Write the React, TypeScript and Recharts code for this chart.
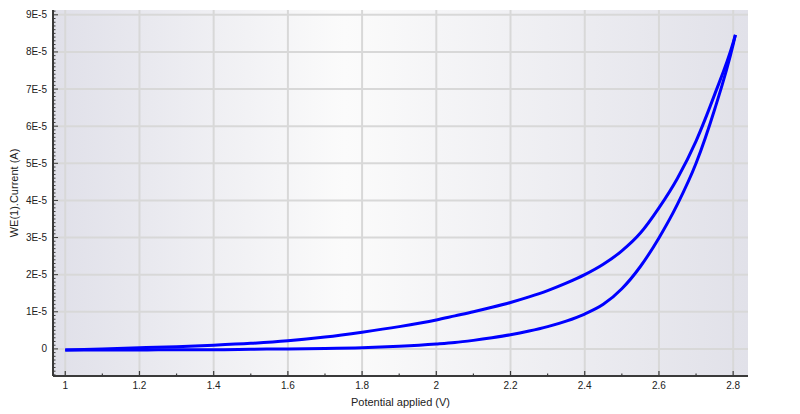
import React from 'react';
import { ComposedChart, Line, XAxis, YAxis, CartesianGrid } from 'recharts';

// Forward scan (lower branch): potential (V) and current (A)
const forwardV = [1.0, 1.1, 1.2, 1.3, 1.4, 1.5, 1.6, 1.7, 1.8, 1.9, 2.0, 2.05, 2.1, 2.15, 2.2, 2.25, 2.3, 2.35, 2.4, 2.45, 2.5, 2.55, 2.6, 2.65, 2.7, 2.75, 2.8, 2.806];
const forwardI = [-0.03e-5, -0.03e-5, -0.03e-5, -0.02e-5, -0.02e-5, -0.01e-5, 0.0, 0.01e-5, 0.03e-5, 0.07e-5, 0.13e-5, 0.17e-5, 0.23e-5, 0.3e-5, 0.38e-5, 0.48e-5, 0.6e-5, 0.75e-5, 0.94e-5, 1.2e-5, 1.62e-5, 2.22e-5, 2.99e-5, 3.9e-5, 5.0e-5, 6.45e-5, 8.2e-5, 8.46e-5];

// Reverse scan (upper branch)
const reverseV = [1.0, 1.1, 1.2, 1.3, 1.4, 1.5, 1.6, 1.7, 1.8, 1.9, 2.0, 2.05, 2.1, 2.15, 2.2, 2.25, 2.3, 2.35, 2.4, 2.45, 2.5, 2.55, 2.6, 2.65, 2.7, 2.75, 2.8, 2.806];
const reverseI = [-0.03e-5, 0.0, 0.03e-5, 0.06e-5, 0.1e-5, 0.15e-5, 0.22e-5, 0.32e-5, 0.45e-5, 0.6e-5, 0.78e-5, 0.89e-5, 1.0e-5, 1.12e-5, 1.25e-5, 1.4e-5, 1.57e-5, 1.77e-5, 2.0e-5, 2.28e-5, 2.64e-5, 3.12e-5, 3.8e-5, 4.6e-5, 5.6e-5, 6.85e-5, 8.25e-5, 8.46e-5];

const xMajorTicks = [1, 1.2, 1.4, 1.6, 1.8, 2, 2.2, 2.4, 2.6, 2.8];
const xTickLabels = ['1', '1.2', '1.4', '1.6', '1.8', '2', '2.2', '2.4', '2.6', '2.8'];
const xMinorTicks = [1.1, 1.3, 1.5, 1.7, 1.9, 2.1, 2.3, 2.5, 2.7];

const yMajorTicks = [0, 1e-5, 2e-5, 3e-5, 4e-5, 5e-5, 6e-5, 7e-5, 8e-5, 9e-5];
const yTickLabels = ['0', '1E-5', '2E-5', '3E-5', '4E-5', '5E-5', '6E-5', '7E-5', '8E-5', '9E-5'];
const yMinorStep = 1e-6;

const xDomain = [0.967, 2.84];
const yDomain = [-0.73e-5, 9.13e-5];

const forward = forwardV.map((v, k) => ({ v, i: forwardI[k] }));
const reverse = reverseV.map((v, k) => ({ v, i: reverseI[k] }));

const xAllTicks = [...xMajorTicks, ...xMinorTicks].sort((a, b) => a - b);
const yAllTicks: number[] = [];
for (let k = -7; k <= 91; k++) yAllTicks.push(k * yMinorStep);

const majorIndex = (arr: number[], v: number) => arr.findIndex((m) => Math.abs(m - v) < 1e-9);

const TEXT = '#222';
const FRAME = '#3a3a3a';

const BottomTick = (props: any) => {
  const { x, y, payload } = props;
  const idx = majorIndex(xMajorTicks, payload.value);
  const major = idx >= 0;
  return (
    <g>
      <line x1={x} x2={x} y1={y} y2={y - (major ? 5 : 2.5)} stroke={FRAME} strokeWidth={1.2} />
      {major && (
        <text x={x} y={y + 13} textAnchor="middle" fontSize={10} fill={TEXT}>
          {xTickLabels[idx]}
        </text>
      )}
    </g>
  );
};

const TopTick = (props: any) => {
  const { x, y, payload } = props;
  const major = majorIndex(xMajorTicks, payload.value) >= 0;
  return <line x1={x} x2={x} y1={y} y2={y + (major ? 5 : 2.5)} stroke={FRAME} strokeWidth={1.2} />;
};

const LeftTick = (props: any) => {
  const { x, y, payload } = props;
  const idx = majorIndex(yMajorTicks, payload.value);
  const major = idx >= 0;
  return (
    <g>
      <line x1={x} x2={x + (major ? 5 : 2.5)} y1={y} y2={y} stroke={FRAME} strokeWidth={1} />
      {major && (
        <text x={x - 6} y={y + 3.5} textAnchor="end" fontSize={10} fill={TEXT}>
          {yTickLabels[idx]}
        </text>
      )}
    </g>
  );
};

const RightTick = (props: any) => {
  const { x, y, payload } = props;
  const major = majorIndex(yMajorTicks, payload.value) >= 0;
  return <line x1={x} x2={x - (major ? 5 : 2.5)} y1={y} y2={y} stroke={FRAME} strokeWidth={1} />;
};

const YLabel = (p: any) => {
  const vb = p.viewBox;
  return (
    <text
      transform={`translate(${vb.x + 14}, ${vb.y + vb.height / 2}) rotate(-90)`}
      textAnchor="middle"
      dominantBaseline="central"
      fontSize={11}
      fill={TEXT}
    >
      WE(1).Current (A)
    </text>
  );
};

export default function App() {
  return (
    <div style={{ position: 'absolute', left: 0, top: 0, width: 800, height: 414, background: '#fff', fontFamily: '"Liberation Sans", Arial, sans-serif' }}>
      <ComposedChart width={800} height={414} margin={{ top: 10, right: 52, bottom: 0, left: 0 }}>
        <defs>
          <linearGradient id="bgGrad" x1="0" y1="0" x2="1" y2="0">
            <stop offset="0" stopColor="#e0e0e9" />
            <stop offset="0.42" stopColor="#fbfbfb" />
            <stop offset="1" stopColor="#e1e1e9" />
          </linearGradient>
        </defs>
        <CartesianGrid
          xAxisId="bottom"
          yAxisId="left"
          fill="url(#bgGrad)"
          fillOpacity={1}
          stroke="#d8d8d8"
          strokeWidth={2}
          verticalValues={xMajorTicks}
          horizontalValues={yMajorTicks}
        />
        <XAxis
          xAxisId="top"
          orientation="top"
          type="number"
          domain={xDomain}
          allowDataOverflow
          ticks={xAllTicks}
          interval={0}
          height={0}
          tickSize={0}
          tickMargin={0}
          tickLine={false}
          tick={<TopTick />}
          axisLine={{ stroke: FRAME, strokeWidth: 2 }}
        />
        <XAxis
          xAxisId="bottom"
          dataKey="v"
          type="number"
          domain={xDomain}
          allowDataOverflow
          ticks={xAllTicks}
          interval={0}
          height={38}
          tickSize={0}
          tickMargin={0}
          tickLine={false}
          tick={<BottomTick />}
          axisLine={{ stroke: FRAME, strokeWidth: 2 }}
          label={{ value: 'Potential applied (V)', position: 'insideBottom', offset: 8, fontSize: 11, fill: TEXT }}
        />
        <YAxis
          yAxisId="left"
          type="number"
          domain={yDomain}
          allowDataOverflow
          ticks={yAllTicks}
          interval={0}
          width={53}
          tickSize={0}
          tickMargin={0}
          tickLine={false}
          tick={<LeftTick />}
          axisLine={{ stroke: FRAME, strokeWidth: 2 }}
          label={{ content: <YLabel /> }}
        />
        <YAxis
          yAxisId="right"
          orientation="right"
          type="number"
          domain={yDomain}
          allowDataOverflow
          ticks={yAllTicks}
          interval={0}
          width={0}
          tickSize={0}
          tickMargin={0}
          tickLine={false}
          tick={<RightTick />}
          axisLine={{ stroke: FRAME, strokeWidth: 2 }}
        />
        <Line
          xAxisId="bottom"
          yAxisId="left"
          data={forward}
          dataKey="i"
          type="monotone"
          stroke="#0000ff"
          strokeWidth={3}
          dot={false}
          isAnimationActive={false}
        />
        <Line
          xAxisId="bottom"
          yAxisId="left"
          data={reverse}
          dataKey="i"
          type="monotone"
          stroke="#0000ff"
          strokeWidth={3}
          dot={false}
          isAnimationActive={false}
        />
      </ComposedChart>
    </div>
  );
}
